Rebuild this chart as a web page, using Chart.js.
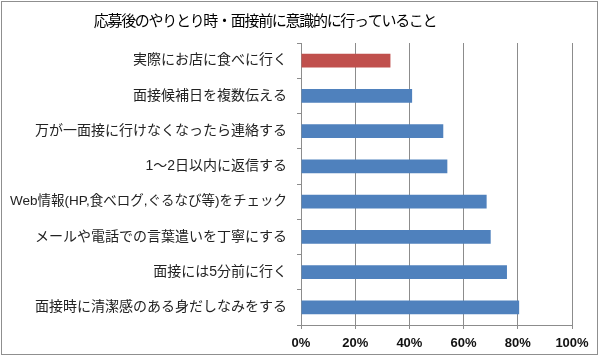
<!DOCTYPE html>
<html>
<head>
<meta charset="utf-8">
<script src="https://cdn.jsdelivr.net/npm/chart.js@4"></script>
<style>
  html, body { margin: 0; padding: 0; background: #fff; }
  #wrap { width: 600px; height: 357px; position: relative; }
</style>
</head>
<body>
<div id="wrap"><canvas id="c" width="600" height="357"></canvas></div>
<script>
const titleText = '応募後のやりとり時・面接前に意識的に行っていること';
const categories = [
  '実際にお店に食べに行く',
  '面接候補日を複数伝える',
  '万が一面接に行けなくなったら連絡する',
  '1～2日以内に返信する',
  'Web情報(HP,食べログ,ぐるなび等)をチェック',
  'メールや電話での言葉遣いを丁寧にする',
  '面接には5分前に行く',
  '面接時に清潔感のある身だしなみをする'
];
const values = [33, 41, 52.5, 54, 68.5, 70, 76, 80.5];
const highlighted = [true, false, false, false, false, false, false, false];
const xTicks = [0, 20, 40, 60, 80, 100];

const BLUE = '#4F81BD';
const RED = '#C0504D';

const frame = {
  id: 'frame',
  beforeDraw(chart) {
    const ctx = chart.ctx;
    ctx.save();
    ctx.fillStyle = '#fff';
    ctx.fillRect(0, 0, chart.width, chart.height);
    ctx.strokeStyle = '#8f8f8f';
    ctx.lineWidth = 1;
    ctx.strokeRect(1.5, 1.5, chart.width - 4, chart.height - 4);
    ctx.restore();
  },
  afterDraw(chart) {
    const ctx = chart.ctx;
    ctx.save();
    ctx.fillStyle = '#000';
    ctx.font = '15px "Noto Sans CJK JP", sans-serif';
    ctx.textAlign = 'center';
    ctx.textBaseline = 'middle';
    if ('letterSpacing' in ctx) ctx.letterSpacing = '-1.3px';
    ctx.fillText(titleText, 265, 20);
    ctx.restore();
  }
};

new Chart(document.getElementById('c'), {
  type: 'bar',
  data: {
    labels: categories,
    datasets: [{
      data: values,
      backgroundColor: highlighted.map(h => h ? RED : BLUE),
      borderWidth: 0,
      categoryPercentage: 1,
      barPercentage: 0.39
    }]
  },
  options: {
    indexAxis: 'y',
    responsive: false,
    animation: false,
    devicePixelRatio: 1,
    layout: { padding: { left: 0, right: 28, top: 43, bottom: 0 } },
    plugins: {
      legend: { display: false },
      tooltip: { enabled: false },
      title: { display: false }
    },
    scales: {
      x: {
        type: 'linear',
        min: 0,
        max: 100,
        afterBuildTicks(scale) { scale.ticks = xTicks.map(v => ({ value: v })); },
        afterFit(scale) { scale.height = 32; },
        ticks: {
          callback: v => v + '%',
          color: '#111',
          padding: 7,
          maxRotation: 0,
          font: { family: '"Liberation Sans", Arial, sans-serif', size: 13, weight: 'bold' }
        },
        grid: {
          color: '#8c8c8c',
          lineWidth: 1,
          drawTicks: true,
          tickLength: 4
        },
        border: { color: '#8c8c8c', width: 1 }
      },
      y: {
        type: 'category',
        afterFit(scale) { scale.width = 301; },
        ticks: {
          color: '#222',
          padding: 10,
          autoSkip: false,
          font: (ctx) => ({
            family: '"Liberation Sans", "Noto Sans CJK JP", sans-serif',
            size: /[A-Za-z]{3}/.test(categories[ctx.index] || '') ? 13.5 : 14
          })
        },
        grid: {
          offset: true,
          drawOnChartArea: false,
          drawTicks: true,
          tickLength: 4,
          color: '#8c8c8c'
        },
        border: { color: '#8c8c8c', width: 1 }
      }
    }
  },
  plugins: [frame]
});
</script>
</body>
</html>
